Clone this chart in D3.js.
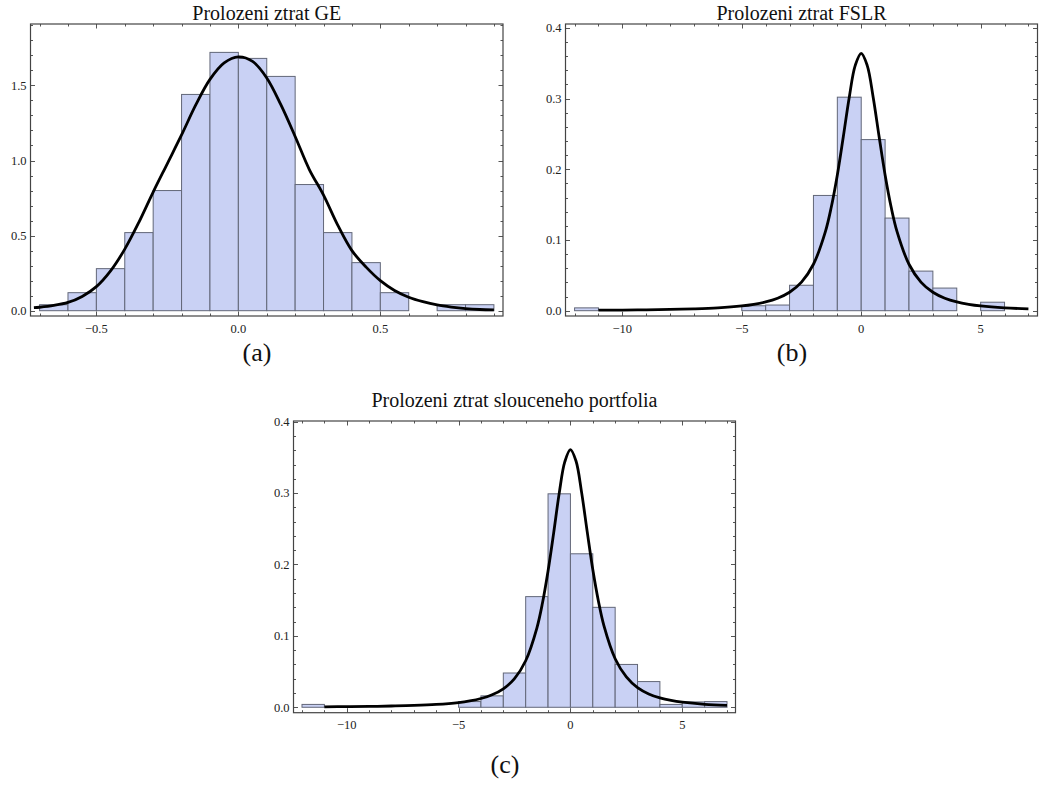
<!DOCTYPE html>
<html><head><meta charset="utf-8">
<script src="https://cdn.jsdelivr.net/npm/d3@7"></script>
<style>html,body{margin:0;padding:0;background:#fff}</style>
</head><body>
<svg id="chart" width="1040" height="785"></svg>
<script>
// ---------- Data ----------
const titles = ["Prolozeni ztrat GE", "Prolozeni ztrat FSLR", "Prolozeni ztrat slouceneho portfolia"];
const captions = ["(a)", "(b)", "(c)"];

// (a) GE histogram: bin edges and densities
const geEdges   = [-0.7,-0.6,-0.5,-0.4,-0.3,-0.2,-0.1,0.0,0.1,0.2,0.3,0.4,0.5,0.6,0.7,0.8,0.9];
const geHeights = [0.04,0.12,0.28,0.52,0.80,1.44,1.72,1.68,1.56,0.84,0.52,0.32,0.12,0.0,0.04,0.04];
const geCurveX  = [-0.72,-0.70,-0.65,-0.60,-0.55,-0.50,-0.45,-0.40,-0.35,-0.30,-0.25,-0.20,-0.15,-0.10,-0.05,0.00,0.05,0.10,0.15,0.20,0.25,0.30,0.35,0.40,0.45,0.50,0.55,0.60,0.65,0.70,0.75,0.80,0.85,0.90];
const geCurveY  = [0.020,0.023,0.035,0.055,0.095,0.160,0.265,0.410,0.590,0.790,0.980,1.170,1.370,1.540,1.650,1.690,1.660,1.550,1.370,1.160,0.940,0.770,0.570,0.400,0.290,0.200,0.135,0.090,0.060,0.038,0.024,0.014,0.008,0.005];
const geXTicks  = [-0.5, 0.0, 0.5];
const geXLabels = ["\u22120.5", "0.0", "0.5"];
const geYTicks  = [0.0, 0.5, 1.0, 1.5];
const geYLabels = ["0.0", "0.5", "1.0", "1.5"];

// (b) FSLR histogram
const fslrEdges   = [-12,-11,-10,-9,-8,-7,-6,-5,-4,-3,-2,-1,0,1,2,3,4,5,6];
const fslrHeights = [0.004,0,0,0,0,0,0,0.007,0.008,0.036,0.163,0.302,0.242,0.131,0.056,0.032,0,0.012];
const fslrCurveX  = [-11,-10,-9,-8,-7,-6,-5,-4.5,-4,-3.5,-3,-2.5,-2,-1.5,-1.25,-1,-0.75,-0.5,-0.25,0,0.25,0.5,0.75,1,1.25,1.5,2,2.5,3,3.5,4,4.5,5,6,7];
const fslrCurveY  = [0.0007,0.0009,0.0012,0.0018,0.0026,0.0040,0.0067,0.0090,0.0124,0.0177,0.0261,0.0405,0.0657,0.1118,0.147,0.192,0.246,0.302,0.347,0.364,0.347,0.302,0.246,0.192,0.147,0.1118,0.0657,0.0405,0.0261,0.0177,0.0124,0.0090,0.0067,0.0040,0.0026];

// (c) merged portfolio histogram
const portEdges   = [-12,-11,-10,-9,-8,-7,-6,-5,-4,-3,-2,-1,0,1,2,3,4,5,6,7];
const portHeights = [0.004,0,0,0,0,0,0,0.008,0.016,0.048,0.155,0.299,0.215,0.140,0.060,0.036,0.004,0.0075,0.008];
const portCurveX  = [-11,-10,-9,-8,-7,-6,-5,-4.5,-4,-3.5,-3,-2.5,-2,-1.5,-1.25,-1,-0.75,-0.5,-0.25,0,0.25,0.5,0.75,1,1.25,1.5,2,2.5,3,3.5,4,4.5,5,6,7];
const portCurveY  = [0.0007,0.0009,0.0012,0.0018,0.0026,0.0040,0.0066,0.0089,0.0123,0.0176,0.0259,0.0402,0.0652,0.1110,0.146,0.191,0.244,0.300,0.344,0.361,0.345,0.301,0.246,0.193,0.149,0.1140,0.0680,0.0425,0.0275,0.0187,0.0131,0.0095,0.0071,0.0042,0.0027];

const bigXTicks  = [-10, -5, 0, 5];
const bigXLabels = ["\u221210", "\u22125", "0", "5"];
const bigYTicks  = [0.0, 0.1, 0.2, 0.3, 0.4];
const bigYLabels = ["0.0", "0.1", "0.2", "0.3", "0.4"];

// ---------- Layout ----------
const panels = [
  { title: titles[0], caption: captions[0], edges: geEdges, heights: geHeights, cx: geCurveX, cy: geCurveY,
    box: {l: 30.5, r: 503, t: 24, b: 316}, xDom: [-0.732, 0.932], yDom: [-0.0353, 1.909],
    xTicks: geXTicks, xLabels: geXLabels, yTicks: geYTicks, yLabels: geYLabels, xMinorStep: 0.1, yMinorStep: 0.1,
    titleY: 20, capX: 257, capY: 361 },
  { title: titles[1], caption: captions[1], edges: fslrEdges, heights: fslrHeights, cx: fslrCurveX, cy: fslrCurveY,
    box: {l: 565.5, r: 1037.5, t: 24, b: 316}, xDom: [-12.38, 7.38], yDom: [-0.0075, 0.4055],
    xTicks: bigXTicks, xLabels: bigXLabels, yTicks: bigYTicks, yLabels: bigYLabels, xMinorStep: 1, yMinorStep: 0.02,
    titleY: 20, capX: 792, capY: 361 },
  { title: titles[2], caption: captions[2], edges: portEdges, heights: portHeights, cx: portCurveX, cy: portCurveY,
    box: {l: 293.5, r: 735.5, t: 421, b: 712.7}, xDom: [-12.38, 7.38], yDom: [-0.0076, 0.401],
    xTicks: bigXTicks, xLabels: bigXLabels, yTicks: bigYTicks, yLabels: bigYLabels, xMinorStep: 1, yMinorStep: 0.02,
    titleY: 407, capX: 505, capY: 773 }
];

const svg = d3.select("#chart");
const serif = "'Liberation Serif','Times New Roman',serif";

function minorTicks(dom, step) {
  const out = [];
  const start = Math.ceil(dom[0] / step - 1e-9);
  const end = Math.floor(dom[1] / step + 1e-9);
  for (let i = start; i <= end; i++) out.push(+(i * step).toFixed(6));
  return out;
}

panels.forEach(p => {
  const x = d3.scaleLinear().domain(p.xDom).range([p.box.l, p.box.r]);
  const y = d3.scaleLinear().domain(p.yDom).range([p.box.b, p.box.t]);
  const g = svg.append("g");

  // bars
  const bins = p.heights.map((h, i) => ({x0: p.edges[i], x1: p.edges[i + 1], h})).filter(d => d.h > 0);
  g.selectAll("rect.bar").data(bins).join("rect")
    .attr("x", d => x(d.x0)).attr("width", d => x(d.x1) - x(d.x0))
    .attr("y", d => y(d.h)).attr("height", d => y(0) - y(d.h))
    .attr("fill", "#c9d1f4").attr("stroke", "#626778").attr("stroke-width", 1);

  // fitted curve
  const pts = p.cx.map((v, i) => [v, p.cy[i]]);
  g.append("path").datum(pts)
    .attr("d", d3.line().x(d => x(d[0])).y(d => y(d[1])).curve(d3.curveCatmullRom.alpha(0.5)))
    .attr("fill", "none").attr("stroke", "#000").attr("stroke-width", 2.8).attr("stroke-linejoin", "round");

  // ticks (inward, all four sides)
  const majorLen = 4.5, minorLen = 2.5;
  const isMajor = (v, arr) => arr.some(a => Math.abs(a - v) < 1e-6);
  const xm = minorTicks(p.xDom, p.xMinorStep);
  const ym = minorTicks(p.yDom, p.yMinorStep);
  const tg = g.append("g").attr("stroke", "#555").attr("stroke-width", 1);
  xm.forEach(v => {
    const L = isMajor(v, p.xTicks) ? majorLen : minorLen;
    const px = Math.round(x(v)) + 0.5;
    tg.append("line").attr("x1", px).attr("x2", px).attr("y1", p.box.b).attr("y2", p.box.b - L);
    tg.append("line").attr("x1", px).attr("x2", px).attr("y1", p.box.t).attr("y2", p.box.t + L);
  });
  ym.forEach(v => {
    const L = isMajor(v, p.yTicks) ? majorLen : minorLen;
    const py = Math.round(y(v)) + 0.5;
    tg.append("line").attr("y1", py).attr("y2", py).attr("x1", p.box.l).attr("x2", p.box.l + L);
    tg.append("line").attr("y1", py).attr("y2", py).attr("x1", p.box.r).attr("x2", p.box.r - L);
  });

  // frame
  g.append("rect").attr("x", p.box.l).attr("y", p.box.t)
    .attr("width", p.box.r - p.box.l).attr("height", p.box.b - p.box.t)
    .attr("fill", "none").attr("stroke", "#444").attr("stroke-width", 1.2);

  // tick labels
  g.selectAll("text.xl").data(p.xTicks).join("text")
    .attr("x", d => x(d)).attr("y", p.box.b + 16.5)
    .attr("text-anchor", "middle").attr("font-family", serif).attr("font-size", 12.5).attr("fill", "#222")
    .text((d, i) => p.xLabels[i]);
  g.selectAll("text.yl").data(p.yTicks).join("text")
    .attr("x", p.box.l - 4).attr("y", d => y(d) + 4.3)
    .attr("text-anchor", "end").attr("font-family", serif).attr("font-size", 12.5).attr("fill", "#222")
    .text((d, i) => p.yLabels[i]);

  // title
  g.append("text").attr("x", (p.box.l + p.box.r) / 2).attr("y", p.titleY)
    .attr("text-anchor", "middle").attr("font-family", serif).attr("font-size", 20).attr("fill", "#111")
    .text(p.title);

  // caption
  g.append("text").attr("x", p.capX).attr("y", p.capY)
    .attr("text-anchor", "middle").attr("font-family", serif).attr("font-size", 26).attr("fill", "#111")
    .text(p.caption);
});
</script>
</body></html>
